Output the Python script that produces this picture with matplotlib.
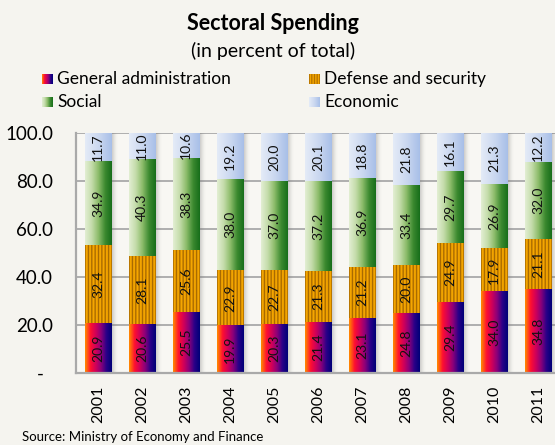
import numpy as np
import matplotlib.pyplot as plt
from matplotlib.colors import LinearSegmentedColormap, to_rgb

plt.rcParams['font.family'] = ['Lato', 'DejaVu Sans']

years = ['2001', '2002', '2003', '2004', '2005', '2006', '2007', '2008', '2009', '2010', '2011']
gen_admin = [20.9, 20.6, 25.5, 19.9, 20.3, 21.4, 23.1, 24.8, 29.4, 34.0, 34.8]
defense = [32.4, 28.1, 25.6, 22.9, 22.7, 21.3, 21.2, 20.0, 24.9, 17.9, 21.1]
social = [34.9, 40.3, 38.3, 38.0, 37.0, 37.2, 36.9, 33.4, 29.7, 26.9, 32.0]
economic = [11.7, 11.0, 10.6, 19.2, 20.0, 20.1, 18.8, 21.8, 16.1, 21.3, 12.2]
series_names = ['General administration', 'Defense and security', 'Social', 'Economic']
y_ticks = [0, 20, 40, 60, 80, 100]
y_tick_labels = ['-  ', '20.0', '40.0', '60.0', '80.0', '100.0']

BG = '#f5f4ef'
W, H = 555, 445


def hgrad(colors, n=64):
    cmap = LinearSegmentedColormap.from_list('g', colors)
    return cmap(np.linspace(0, 1, n))[None, :, :]


def stripes(n=200, k=8):
    x = np.linspace(0, 1, n)
    t = (0.5 + 0.5 * np.cos(2 * np.pi * k * x)) ** 3
    base = np.array(to_rgb('#f7a800'))
    dark = np.array(to_rgb('#8a5200'))
    rgb = base[None, :] * (1 - t[:, None]) + dark[None, :] * t[:, None]
    return rgb[None, :, :]


fills = [
    hgrad(['#ff8a00', '#ff1030', '#d0005a', '#8a007a', '#2a0088', '#000078']),
    stripes(),
    hgrad(['#e2eed2', '#c4dcaa', '#8cbc6a', '#3c8a30', '#176e1a']),
    hgrad(['#e4ebf7', '#cbd8f0', '#a8bfe8']),
]
data = [gen_admin, defense, social, economic]

fig = plt.figure(figsize=(W / 100, H / 100), dpi=100, facecolor=BG)
ax = fig.add_axes([76 / W, 72 / H, (560 - 76) / W, 240 / H])
ax.set_facecolor('#f8f7f3')

x = np.arange(len(years))
width = 0.61
bottom = np.zeros(len(years))

# soft shadows to the right of each bar
shadow = np.zeros((1, 32, 4))
shadow[..., :3] = 0.45
shadow[..., 3] = np.linspace(0.55, 0, 32) ** 1.5
for xi in x:
    ax.imshow(shadow, extent=[xi + width / 2, xi + width / 2 + 0.14, 0, 100],
              aspect='auto', zorder=1.5, interpolation='bilinear')

for vals, fill in zip(data, fills):
    bars = ax.bar(x, vals, width, bottom=bottom, color='none', linewidth=0, zorder=2)
    for p, v in zip(bars.patches, vals):
        x0, y0 = p.get_x(), p.get_y()
        ax.imshow(fill, extent=[x0, x0 + p.get_width(), y0, y0 + p.get_height()],
                  aspect='auto', zorder=2, interpolation='bilinear')
        ax.text(x0 + p.get_width() / 2, y0 + p.get_height() / 2, f'{v:.1f}',
                rotation=90, ha='center', va='center', fontsize=10, color='#111111', zorder=3)
    bottom = bottom + np.array(vals)

ax.set_xlim(-0.5, len(years) - 0.5)
ax.set_ylim(0, 100)
ax.set_yticks(y_ticks)
ax.set_yticklabels(y_tick_labels, fontsize=13.5)
ax.set_xticks(x)
ax.set_xticklabels(years, rotation=90, fontsize=11.5)
ax.tick_params(axis='both', length=0)
ax.tick_params(axis='y', pad=16.5)
ax.tick_params(axis='x', pad=9)
ax.yaxis.grid(True, color='#a9a9a9', linewidth=1.3, zorder=0)
ax.set_axisbelow(True)
for s in ['top', 'right']:
    ax.spines[s].set_visible(False)
for s in ['left', 'bottom']:
    ax.spines[s].set_color('#a9a9a9')
    ax.spines[s].set_linewidth(1.6)

fig.text(0.492, 1 - 24 / H, 'Sectoral Spending', ha='center', va='center',
         fontsize=15.5, fontweight='bold')
fig.text(0.492, 1 - 51 / H, '(in percent of total)', ha='center', va='center', fontsize=14)

# legend: swatch + label, two columns
legend_pos = [(42, 79), (309, 79), (42, 102), (309, 102)]
for i, (name, fill, (lx, ly)) in enumerate(zip(series_names, fills, legend_pos)):
    sw = fig.add_axes([lx / W, 1 - (ly + 5.5) / H, 11 / W, 11 / H])
    if i == 1:
        fill = stripes(n=40, k=4)
    sw.imshow(fill, aspect='auto', extent=[0, 1, 0, 1], interpolation='bilinear')
    sw.axis('off')
    fig.text((lx + 15) / W, 1 - ly / H, name, ha='left', va='center', fontsize=12.5)

fig.text(22 / W, 1 - 437 / H, 'Source: Ministry of Economy and Finance', ha='left',
         va='center', fontsize=9.5)

fig.savefig('out.png', dpi=100, facecolor=BG)
